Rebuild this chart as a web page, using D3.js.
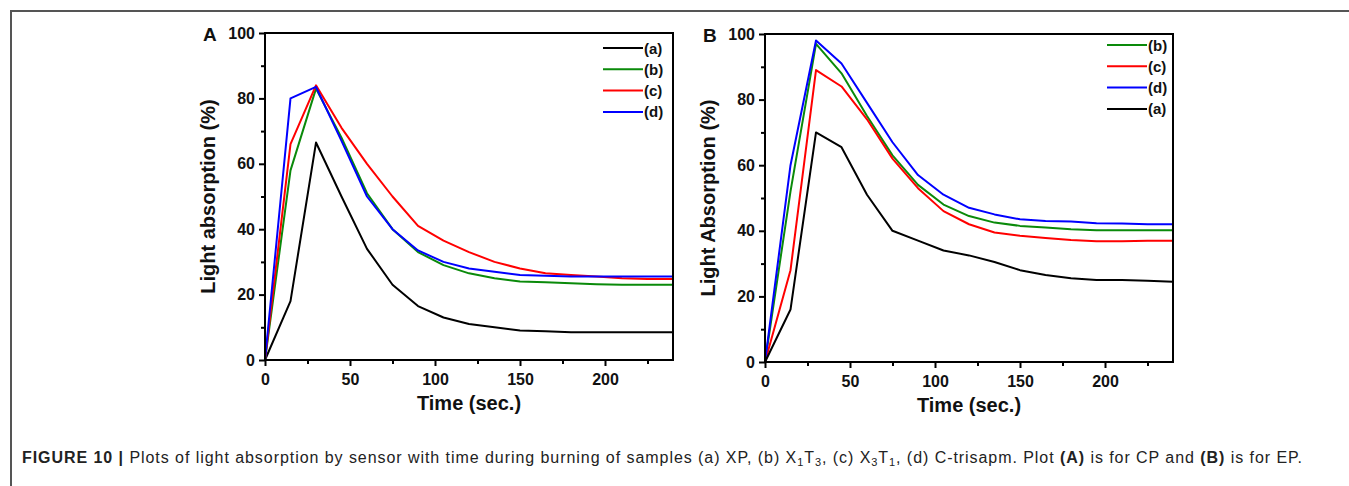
<!DOCTYPE html>
<html>
<head>
<meta charset="utf-8">
<script src="https://cdn.jsdelivr.net/npm/d3@7"></script>
<style>
body { margin: 0; background: #fff; }
svg { display: block; }
</style>
</head>
<body>
<svg id="fig"></svg>
<script>
// time points (sec.)
const timesA = [0, 15, 30, 45, 60, 75, 90, 105, 120, 135, 150, 165, 180, 195, 210, 225, 240];
const timesB = [0, 15, 30, 45, 60, 75, 90, 105, 120, 135, 150, 165, 180, 195, 210, 225, 240];

// plot A (CP)
const aA = [0, 18, 66.5, 50, 34, 23, 16.5, 13, 11, 10, 9, 8.8, 8.5, 8.5, 8.5, 8.5, 8.5];
const bA = [0, 58, 83, 68, 51, 40, 33, 29, 26.5, 25, 24, 23.8, 23.5, 23.2, 23, 23, 23];
const cA = [0, 66, 84, 71, 60, 50, 41, 36.5, 33, 30, 28, 26.5, 26, 25.5, 25, 24.8, 24.8];
const dA = [0, 80, 83.5, 67, 50, 40, 33.5, 30, 28, 27, 26, 25.8, 25.5, 25.5, 25.5, 25.5, 25.5];

// plot B (EP)
const aB = [0, 16, 70, 65.5, 51, 40, 37, 34, 32.5, 30.5, 28, 26.5, 25.5, 25, 25, 24.8, 24.5];
const bB = [0, 52, 97, 88, 75, 63, 54, 48, 44.5, 42.5, 41.5, 41, 40.5, 40.2, 40.2, 40.2, 40.2];
const cB = [0, 28, 89, 84, 74, 62, 53, 46, 42, 39.5, 38.5, 37.8, 37.2, 36.8, 36.8, 37, 37];
const dB = [0, 60, 98, 91, 79, 67, 57, 51, 47, 45, 43.5, 43, 42.8, 42.3, 42.2, 42, 42];

const seriesColors = { "(a)": "#000000", "(b)": "#0a8a0a", "(c)": "#ff0000", "(d)": "#0000ff" };

const xTicks = [0, 50, 100, 150, 200];
const yTicks = [0, 20, 40, 60, 80, 100];

const W = 1349, H = 486;
const svg = d3.select("#fig").attr("width", W).attr("height", H);

// outer frame
svg.append("path")
    .attr("d", `M11,${H + 5} L11,11 L${W + 5},11`)
    .attr("fill", "none")
    .attr("stroke", "#555")
    .attr("stroke-width", 2);

const font = "Arial, 'Liberation Sans', sans-serif";

function drawPanel(opts) {
    const { left, top, right, bottom, label, yTitle, times, series } = opts;
    const x = d3.scaleLinear().domain([0, 240]).range([left, right]);
    const y = d3.scaleLinear().domain([0, 100]).range([bottom, top]);
    const g = svg.append("g");

    // lines
    const line = d3.line().x(d => x(d[0])).y(d => y(d[1]));
    series.forEach(s => {
        g.append("path")
            .datum(times.map((t, i) => [t, s.values[i]]))
            .attr("d", line)
            .attr("fill", "none")
            .attr("stroke", seriesColors[s.name])
            .attr("stroke-width", 2)
            .attr("stroke-linejoin", "round");
    });

    // axes
    g.append("g").attr("transform", `translate(0,${bottom})`)
        .call(d3.axisBottom(x).tickValues(xTicks).tickSize(6).tickPadding(8));
    g.append("g").attr("transform", `translate(0,${bottom})`)
        .call(d3.axisBottom(x).tickValues(d3.range(25, 240, 50)).tickSize(4).tickFormat(""));
    g.append("g").attr("transform", `translate(${left},0)`)
        .call(d3.axisLeft(y).tickValues(yTicks).tickSize(6).tickPadding(4));
    g.append("g").attr("transform", `translate(${left},0)`)
        .call(d3.axisLeft(y).tickValues(d3.range(10, 100, 20)).tickSize(4).tickFormat(""));
    g.selectAll(".domain").remove();
    g.selectAll(".tick line").attr("stroke", "#000").attr("stroke-width", 2);
    g.selectAll(".tick text")
        .attr("fill", "#111")
        .style("font-family", font)
        .style("font-weight", "bold")
        .style("font-size", "16px");

    // frame
    g.append("rect")
        .attr("x", left).attr("y", top)
        .attr("width", right - left).attr("height", bottom - top)
        .attr("fill", "none").attr("stroke", "#000").attr("stroke-width", 2);

    // titles
    g.append("text")
        .attr("x", (left + right) / 2).attr("y", bottom + 50)
        .attr("text-anchor", "middle")
        .style("font-family", font).style("font-weight", "bold").style("font-size", "20px")
        .attr("fill", "#111")
        .text("Time (sec.)");
    g.append("text")
        .attr("transform", `translate(${left - 50},${(top + bottom) / 2}) rotate(-90)`)
        .attr("text-anchor", "middle")
        .style("font-family", font).style("font-weight", "bold").style("font-size", "20px")
        .attr("fill", "#111")
        .text(yTitle);
    g.append("text")
        .attr("x", left - 62).attr("y", top + 8)
        .style("font-family", font).style("font-weight", "bold").style("font-size", "19px")
        .attr("fill", "#111")
        .text(label);

    // legend
    const lg = g.append("g");
    series.forEach((s, i) => {
        const ly = opts.legendTop + i * 21.3;
        lg.append("line")
            .attr("x1", opts.legendX).attr("x2", opts.legendX + 40)
            .attr("y1", ly).attr("y2", ly)
            .attr("stroke", seriesColors[s.name]).attr("stroke-width", 2);
        lg.append("text")
            .attr("x", opts.legendX + 41).attr("y", ly + 5.5)
            .style("font-family", font).style("font-weight", "bold").style("font-size", "15px")
            .attr("fill", "#111")
            .text(s.name);
    });
}

drawPanel({
    left: 265, top: 33, right: 673, bottom: 360,
    label: "A", yTitle: "Light absorption (%)", times: timesA,
    legendX: 603, legendTop: 48,
    series: [
        { name: "(a)", values: aA },
        { name: "(b)", values: bA },
        { name: "(c)", values: cA },
        { name: "(d)", values: dA }
    ]
});

drawPanel({
    left: 765, top: 34, right: 1173, bottom: 362,
    label: "B", yTitle: "Light Absorption (%)", times: timesB,
    legendX: 1107, legendTop: 45,
    series: [
        { name: "(b)", values: bB },
        { name: "(c)", values: cB },
        { name: "(d)", values: dB },
        { name: "(a)", values: aB }
    ]
});

// caption
const cap = svg.append("text")
    .attr("x", 22).attr("y", 463)
    .attr("textLength", 1280)
    .attr("lengthAdjust", "spacing")
    .style("font-family", "Arial, 'Liberation Sans', sans-serif")
    .style("font-size", "16px")
    .attr("fill", "#222");
const parts = [
    ["FIGURE 10 | ", "bold"],
    ["Plots of light absorption by sensor with time during burning of samples (a) XP, (b) X", ""],
    ["1", "sub"], ["T", ""], ["3", "sub"], [", (c) X", ""], ["3", "sub"], ["T", ""], ["1", "sub"],
    [", (d) C-trisapm. Plot ", ""], ["(A)", "bold"], [" is for CP and ", ""], ["(B)", "bold"], [" is for EP.", ""]
];
parts.forEach(p => {
    const ts = cap.append("tspan").text(p[0]);
    if (p[1] === "bold") ts.style("font-weight", "bold");
    if (p[1] === "sub") ts.attr("baseline-shift", "-25%").style("font-size", "11px");
});
</script>
</body>
</html>
